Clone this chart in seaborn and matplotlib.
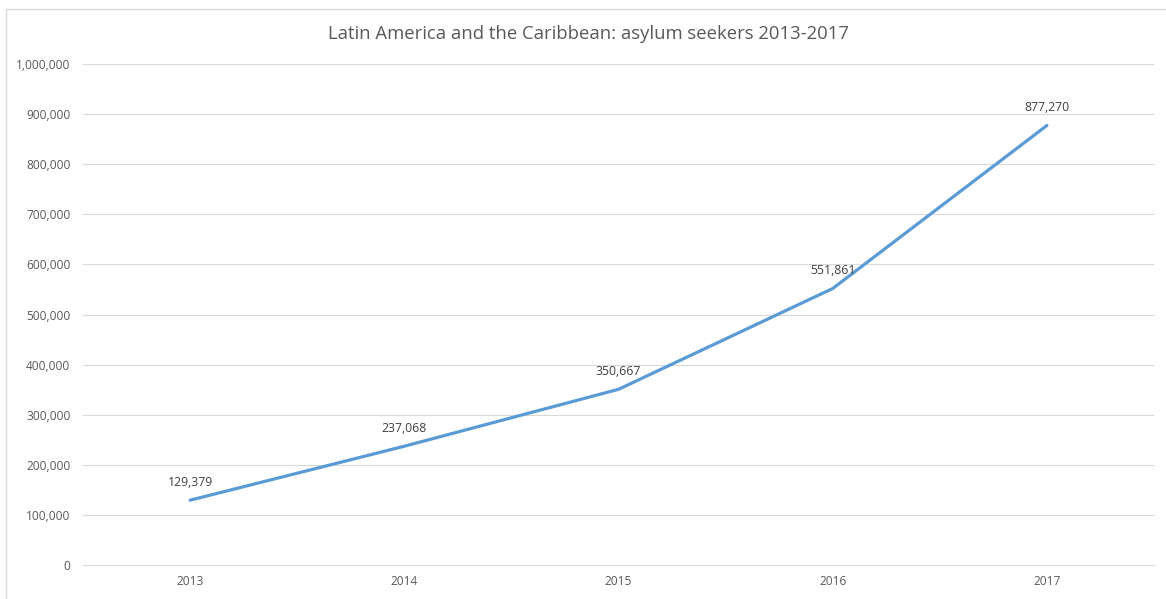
import matplotlib
matplotlib.use("Agg")
import matplotlib.pyplot as plt
import seaborn as sns
import pandas as pd
from matplotlib.ticker import FuncFormatter, MultipleLocator
from matplotlib.patches import Rectangle

years = ["2013", "2014", "2015", "2016", "2017"]
asylum_seekers = [129379, 237068, 350667, 551861, 877270]
title = "Latin America and the Caribbean: asylum seekers 2013-2017"

df = pd.DataFrame({"year": years, "value": asylum_seekers})

sns.set_theme(style="white")
plt.rcParams["font.family"] = ["Open Sans", "DejaVu Sans"]

fig = plt.figure(figsize=(11.66, 5.99), dpi=100)
ax = fig.add_axes([83 / 1166, 34 / 599, (1154 - 83) / 1166, (565 - 64) / 599])

sns.lineplot(data=df, x="year", y="value", ax=ax, color="#5B9BD5",
             linewidth=2.3, sort=False)

ax.set_xlim(-0.5, len(years) - 0.5)
ax.set_ylim(0, 1000000)
ax.yaxis.set_major_locator(MultipleLocator(100000))
ax.yaxis.set_major_formatter(FuncFormatter(lambda v, p: f"{int(v):,}"))
ax.grid(axis="y", color="#D9D9D9", linewidth=0.8)
ax.set_axisbelow(True)
for s in ["top", "right", "left"]:
    ax.spines[s].set_visible(False)
ax.spines["bottom"].set_color("#D9D9D9")
ax.spines["bottom"].set_linewidth(0.8)
ax.tick_params(axis="both", length=0, labelsize=8.6, colors="#595959")
ax.tick_params(axis="y", pad=9)
ax.tick_params(axis="x", pad=7)
ax.set_xlabel("")
ax.set_ylabel("")

for i, v in enumerate(asylum_seekers):
    ax.annotate(f"{v:,}", xy=(i, v), xytext=(0, 13), textcoords="offset points",
                ha="center", va="center", fontsize=8.8, color="#404040")

fig.text(588 / 1166, 1 - 34 / 599, title, ha="center", va="center",
         fontsize=13.3, color="#595959")

fig.patches.append(Rectangle((6 / 1166, -0.1), 1.2, 1 - 9 / 599 + 0.1,
                             transform=fig.transFigure, fill=False,
                             edgecolor="#D9D9D9", linewidth=1.0))

fig.savefig("out.png", dpi=100)
